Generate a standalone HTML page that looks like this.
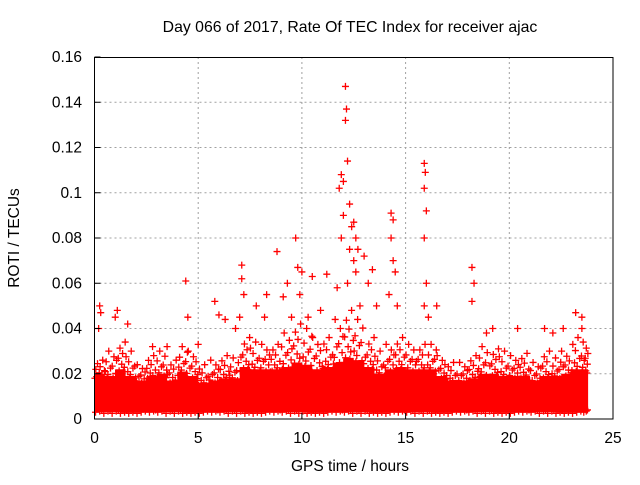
<!DOCTYPE html>
<html><head><meta charset="utf-8"><style>
body{margin:0;background:#fff}
svg text{font-family:"Liberation Sans",sans-serif;font-size:15.5px;fill:#000}
</style></head><body>
<svg id="chart" width="640" height="480" xmlns="http://www.w3.org/2000/svg">
<text x="350" y="32" text-anchor="middle" style="font-size:15.8px">Day 066 of 2017, Rate Of TEC Index for receiver ajac</text>
<text x="350" y="471" text-anchor="middle">GPS time / hours</text>
<text transform="translate(19,238) rotate(-90)" text-anchor="middle">ROTI / TECUs</text>
<g id="grid"></g><g id="band"></g><g id="marks"></g><g id="axes"></g>
</svg>
<script>
const xTicks=[0,5,10,15,20,25];
const yTicks=[0,0.02,0.04,0.06,0.08,0.1,0.12,0.14,0.16];
const yTickLabels=["0","0.02","0.04","0.06","0.08","0.1","0.12","0.14","0.16"];
const binStart=[0,0.5,1,1.5,2,2.5,3,3.5,4,4.5,5,5.5,6,6.5,7,7.5,8,8.5,9,9.5,10,10.5,11,11.5,12,12.5,13,13.5,14,14.5,15,15.5,16,16.5,17,17.5,18,18.5,19,19.5,20,20.5,21,21.5,22,22.5,23,23.5];
const bandTop=[0.026,0.03,0.034,0.03,0.024,0.028,0.03,0.026,0.032,0.03,0.024,0.026,0.028,0.027,0.036,0.034,0.033,0.033,0.038,0.042,0.04,0.036,0.036,0.044,0.048,0.044,0.036,0.03,0.033,0.036,0.033,0.033,0.033,0.028,0.025,0.025,0.028,0.032,0.031,0.03,0.028,0.029,0.025,0.03,0.027,0.03,0.036,0.034];
const solidTop=[0.02,0.019,0.022,0.019,0.017,0.019,0.02,0.017,0.021,0.019,0.016,0.017,0.018,0.018,0.023,0.022,0.022,0.022,0.023,0.025,0.024,0.022,0.023,0.025,0.027,0.026,0.023,0.02,0.022,0.023,0.022,0.022,0.022,0.019,0.017,0.017,0.018,0.02,0.02,0.019,0.019,0.019,0.017,0.019,0.019,0.02,0.022,0.022];
const spikeT=[0.25,0.3,0.2,1.1,1.0,1.6,4.4,4.5,5.8,6.0,6.3,7.1,7.1,7.2,7.8,8.3,8.8,9.1,9.3,9.7,9.8,10.0,10.5,11.2,11.8,11.9,12.0,12.1,12.15,12.1,12.2,12.3,12.4,12.5,12.6,12.7,12.5,12.0,12.2,13.0,13.4,14.3,14.4,14.3,14.4,14.5,15.9,15.95,15.9,16.0,15.9,16.0,15.9,16.5,18.2,18.3,18.2,19.2,20.4,21.7,22.6,23.2,23.5,23.5,10.3,9.5,12.8,13.2,11.9,12.3,14.6,8.2,6.8,3.5,2.8,5.0,11.7,12.6,14.2,16.1,9.9,10.9,7.0,13.6,18.9,22.1];
const spikeV=[0.05,0.047,0.04,0.048,0.045,0.042,0.061,0.045,0.052,0.046,0.044,0.068,0.062,0.055,0.05,0.055,0.074,0.054,0.06,0.08,0.067,0.065,0.063,0.064,0.102,0.108,0.105,0.147,0.137,0.132,0.114,0.095,0.085,0.087,0.08,0.075,0.07,0.09,0.06,0.072,0.066,0.091,0.088,0.08,0.07,0.065,0.113,0.109,0.102,0.092,0.08,0.06,0.05,0.05,0.067,0.06,0.052,0.04,0.04,0.04,0.04,0.047,0.045,0.04,0.045,0.045,0.05,0.06,0.08,0.075,0.05,0.045,0.04,0.032,0.032,0.033,0.058,0.065,0.055,0.045,0.055,0.048,0.045,0.05,0.038,0.038];
const X=t=>94.5+t*(613-94.5)/25, Y=v=>419-v*(419-57)/0.16;
const NS="http://www.w3.org/2000/svg";
function mk(tag,attrs,parent){const e=document.createElementNS(NS,tag);for(const k in attrs)e.setAttribute(k,attrs[k]);document.getElementById(parent).appendChild(e);return e;}
xTicks.forEach(t=>{
 if(t>0&&t<25){const g=mk('line',{x1:X(t),x2:X(t),y1:57,y2:419,stroke:'#a0a0a0','stroke-dasharray':'2,3'},'grid');
 
 }
 const l=mk('text',{x:X(t),y:443,'text-anchor':'middle'},'axes');l.textContent=t;
 
 
 mk('line',{x1:X(t),x2:X(t),y1:419,y2:413,stroke:'#000'},'axes');
});
yTicks.forEach((v,i)=>{
 if(i>0&&i<yTicks.length-1){const g=mk('line',{x1:94.5,x2:613,y1:Y(v),y2:Y(v),stroke:'#a0a0a0','stroke-dasharray':'2,3'},'grid');
 
 }
 const l=mk('text',{x:82,y:Y(v)+5,'text-anchor':'end'},'axes');l.textContent=yTickLabels[i];
 
 
 mk('line',{x1:94.5,x2:100.5,y1:Y(v),y2:Y(v),stroke:'#000'},'axes');
});
const frame=mk('rect',{x:94.5,y:57.5,width:518.5,height:361.5,fill:'none',stroke:'#000'},'axes');


function cross(t,v,parent){const p=mk('path',{d:`M${X(t)-3.5},${Y(v)}h7M${X(t)},${Y(v)-3.5}v7`,stroke:'#f00','stroke-width':1.3},parent);
 
 }
let d=`M${X(0)},${Y(0.003)}`;
binStart.forEach((t,i)=>{d+=`L${X(t)},${Y(solidTop[i])}L${X(Math.min(t+0.5,23.8))},${Y(solidTop[i])}`;});
d+=`L${X(23.8)},${Y(0.003)}Z`;
const band=mk('path',{d:d,fill:'#f00'},'band');


const jit=[0.0,0.7,0.3,0.9,0.15,0.55,0.8,0.25,0.45,1.0,0.1,0.65];
const low=[0.003,0.0045,0.0035,0.004,0.0025,0.005];
binStart.forEach((t,i)=>{
 const top=bandTop[i],s=solidTop[i],hi=Math.min(t+0.5,23.8);
 for(let k=0;k<12;k++){const tt=t+(hi-t)*(k+0.5)/12;const f=jit[(k+i*5)%12];cross(tt,s-0.002+(top-s+0.002)*f*f,'marks');}
 for(let k=0;k<5;k++){cross(t+(hi-t)*(k+0.5)/5,low[(k+i)%6],'marks');}
});
spikeT.forEach((t,i)=>cross(t,spikeV[i],'marks'));
</script>
</body></html>
